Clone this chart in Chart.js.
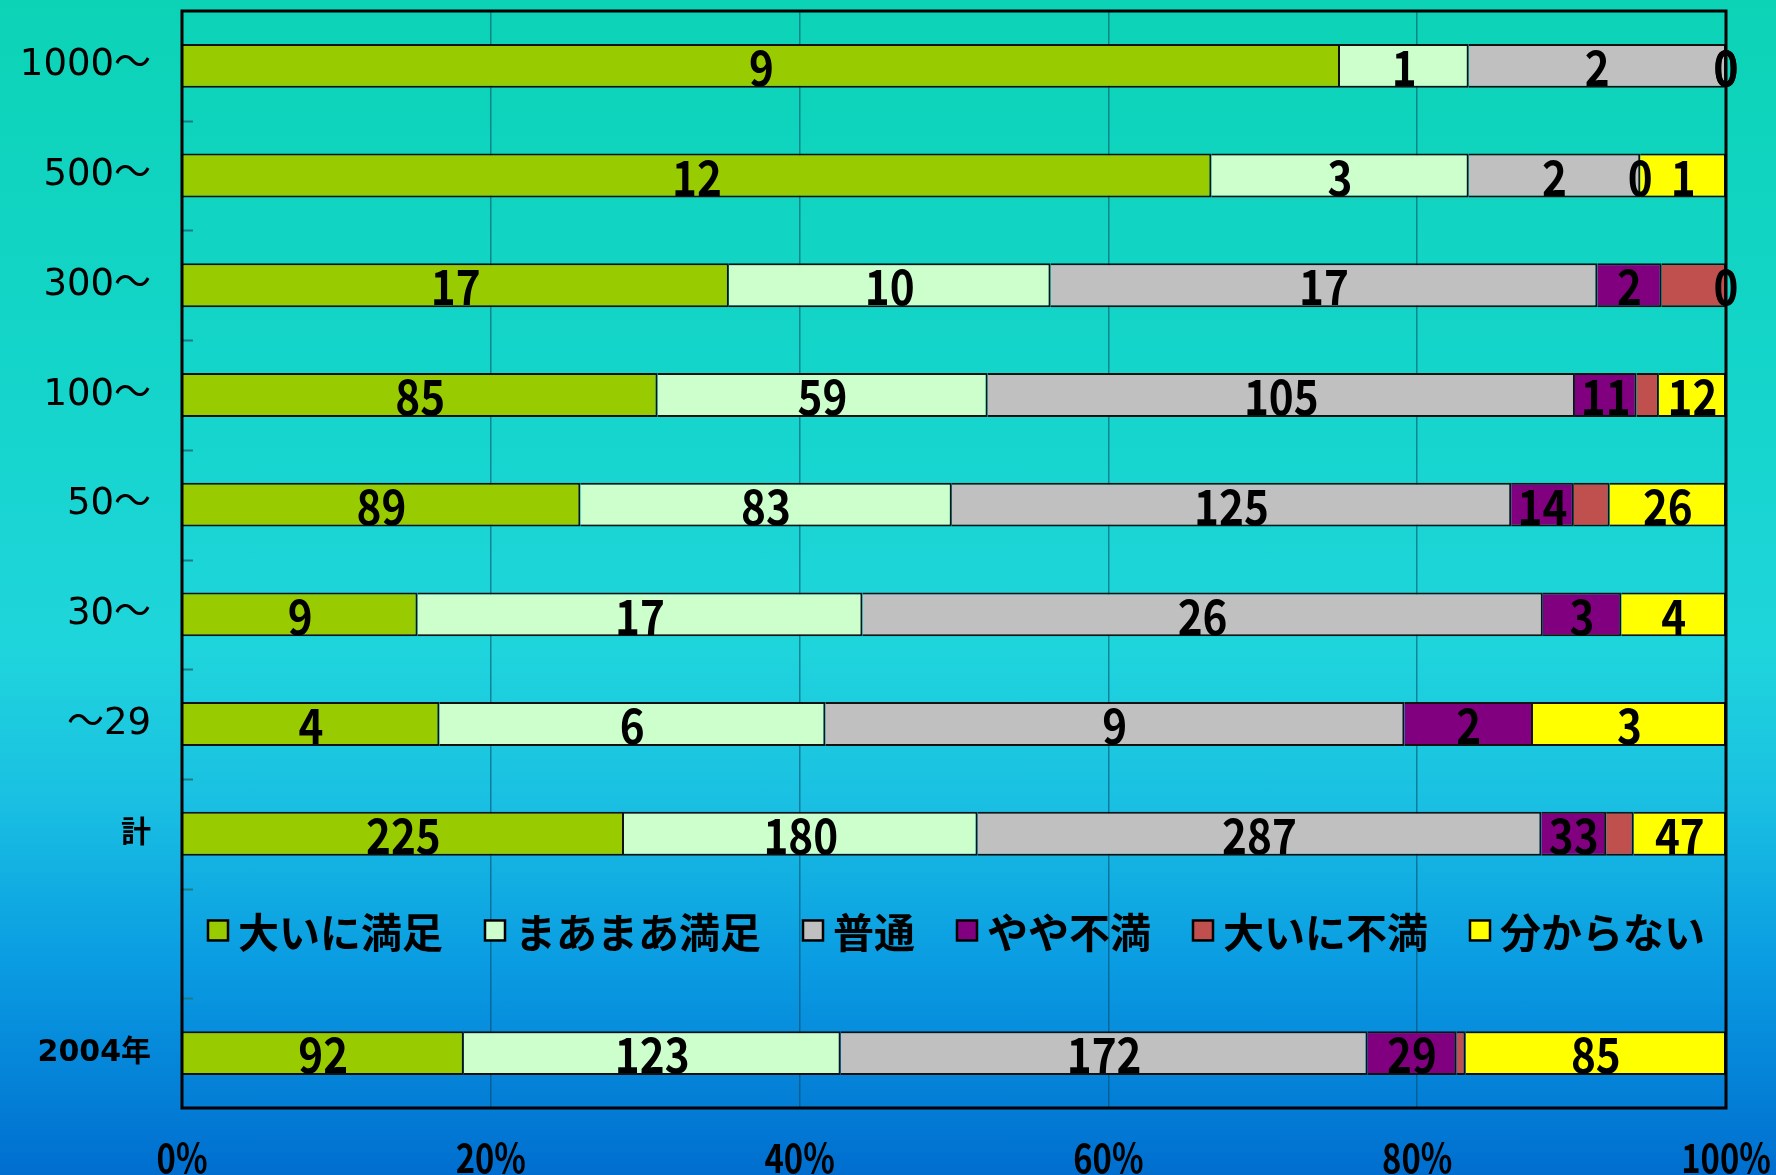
<!DOCTYPE html>
<html>
<head>
<meta charset="utf-8">
<style>
  html, body { margin: 0; padding: 0; overflow: hidden; }
  body {
    width: 1776px; height: 1175px;
    background: linear-gradient(to bottom, #0cd3b6 0%, #15d5cc 35%, #1fd5dc 55%, #1ac0e2 68%, #0a9ce2 82%, #006ecf 100%);
  }
  canvas { display: block; }
</style>
</head>
<body>
<canvas id="satChart" width="1776" height="1175"></canvas>
<script src="https://cdn.jsdelivr.net/npm/chart.js@4.4.0/dist/chart.umd.min.js"></script>
<script>
// row labels (blank row holds the legend)
const categories = ['1000〜', '500〜', '300〜', '100〜', '50〜', '30〜', '〜29', '計', '', '2004年'];

// answer counts per row
const veryGood   = [9, 12, 17, 85, 89, 9, 4, 225, null, 92];
const fairlyGood = [1, 3, 10, 59, 83, 17, 6, 180, null, 123];
const normal     = [2, 2, 17, 105, 125, 26, 9, 287, null, 172];
const slightlyBad = [0, 0, 2, 11, 14, 3, 2, 33, null, 29];
const veryBad    = [0, 0, 2, 4, 8, 0, 0, 14, null, 3];
const unknown    = [0, 1, 0, 12, 26, 4, 3, 47, null, 85];

const seriesNames = ['大いに満足', 'まあまあ満足', '普通', 'やや不満', '大いに不満', '分からない'];
const seriesColors = ['#99CC00', '#CCFFCC', '#C0C0C0', '#800080', '#C0504D', '#FFFF00'];
const xTicks = [0, 20, 40, 60, 80, 100];

const allSeries = [veryGood, fairlyGood, normal, slightlyBad, veryBad, unknown];
const rowTotals = categories.map((c, i) => allSeries.reduce((s, arr) => s + (arr[i] || 0), 0));
const toPct = arr => arr.map((v, i) => v == null ? null : v / rowTotals[i] * 100);

const datasets = allSeries.map((arr, k) => ({
  label: seriesNames[k],
  data: toPct(arr),
  raw: arr,
  hideLabels: k === 4,
  backgroundColor: seriesColors[k],
  borderColor: '#111',
  borderWidth: 2,
  barPercentage: 0.4,
  categoryPercentage: 1
}));

function condensedText(ctx, text, x, y, sx) {
  ctx.save();
  ctx.translate(x, y);
  ctx.scale(sx, 1);
  ctx.fillText(text, 0, 0);
  ctx.restore();
}

function noPadding(s) {
  s.paddingTop = 0; s.paddingBottom = 0; s.paddingLeft = 0; s.paddingRight = 0;
}

const decorations = {
  id: 'decorations',
  afterDatasetsDraw(chart) {
    const ctx = chart.ctx;
    const area = chart.chartArea;
    const x = chart.scales.x;
    const y = chart.scales.y;
    ctx.save();

    // inner category tick marks
    ctx.strokeStyle = '#1a7c84';
    ctx.lineWidth = 2;
    for (let i = 1; i < categories.length; i++) {
      const py = Math.round((y.getPixelForValue(i - 1) + y.getPixelForValue(i)) / 2) + 0.5;
      ctx.beginPath();
      ctx.moveTo(area.left, py);
      ctx.lineTo(area.left + 11, py);
      ctx.stroke();
    }

    // plot frame
    ctx.strokeStyle = '#000';
    ctx.lineWidth = 3;
    ctx.strokeRect(area.left, area.top, area.right - area.left, area.bottom - area.top);

    // value labels
    ctx.fillStyle = '#000';
    ctx.textAlign = 'center';
    ctx.textBaseline = 'middle';
    ctx.font = 'bold 48px "Noto Sans CJK JP"';
    chart.data.datasets.forEach((ds, di) => {
      if (ds.hideLabels) return;
      chart.getDatasetMeta(di).data.forEach((bar, i) => {
        const v = ds.raw[i];
        if (v == null) return;
        const p = bar.getCenterPoint();
        condensedText(ctx, String(v), p.x, p.y + 2, 0.88);
      });
    });

    // percent labels under the axis (condensed like the original)
    ctx.font = 'bold 40px "Noto Sans CJK JP"';
    xTicks.forEach(v => {
      condensedText(ctx, v + '%', x.getPixelForValue(v), area.bottom + 50, 0.82);
    });

    // legend in the blank row
    const blank = categories.indexOf('');
    const cy = y.getPixelForValue(blank) - 13;
    ctx.font = 'bold 41px "Noto Sans CJK JP"';
    ctx.textAlign = 'left';
    let lx = area.left + 26;
    chart.data.datasets.forEach(ds => {
      ctx.fillStyle = ds.backgroundColor;
      ctx.fillRect(lx, cy - 10, 20, 20);
      ctx.strokeStyle = '#000';
      ctx.lineWidth = 2.5;
      ctx.strokeRect(lx, cy - 10, 20, 20);
      ctx.fillStyle = '#000';
      ctx.fillText(ds.label, lx + 30, cy + 2);
      lx += 30 + ctx.measureText(ds.label).width + 42;
    });

    ctx.restore();
  }
};

new Chart(document.getElementById('satChart').getContext('2d'), {
  type: 'bar',
  data: { labels: categories, datasets: datasets },
  options: {
    responsive: false,
    animation: false,
    indexAxis: 'y',
    layout: { padding: { top: 11, right: 50, left: 0, bottom: 0 } },
    plugins: { legend: { display: false }, tooltip: { enabled: false } },
    scales: {
      x: {
        stacked: true,
        min: 0,
        max: 100,
        afterBuildTicks: s => { s.ticks = xTicks.map(v => ({ value: v })); },
        afterFit: s => { s.height = 67; noPadding(s); },
        ticks: { display: false },
        grid: { color: 'rgba(0,70,100,0.55)', lineWidth: 1.5, drawTicks: false },
        border: { display: false }
      },
      y: {
        stacked: true,
        afterFit: s => { s.width = 182; noPadding(s); },
        ticks: {
          color: '#000',
          padding: 23,
          font: c => c.index < 7
            ? { family: '"DejaVu Sans", "Noto Sans CJK JP"', size: 37, weight: 'normal' }
            : { family: '"DejaVu Sans", "Noto Sans CJK JP"', size: 30, weight: 'bold' }
        },
        grid: { display: false },
        border: { display: false }
      }
    }
  },
  plugins: [decorations]
});
</script>
</body>
</html>
